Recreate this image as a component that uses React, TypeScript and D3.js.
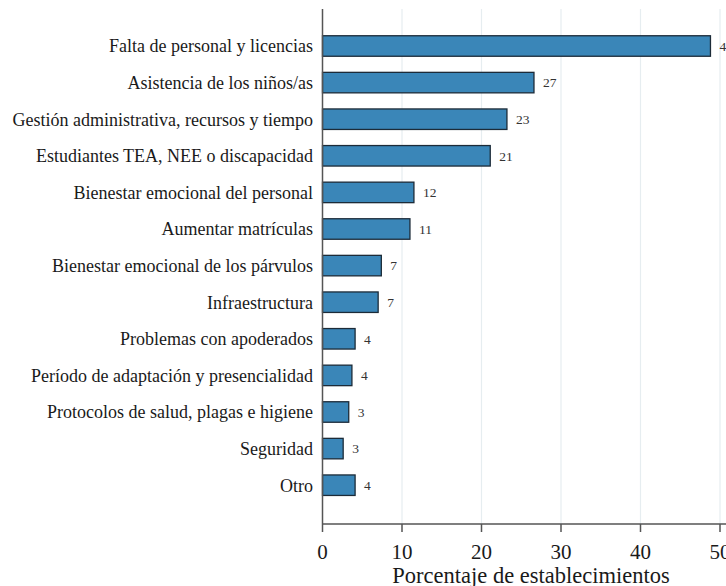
import React from "react";
import * as d3 from "d3";

const categories = [
  "Falta de personal y licencias",
  "Asistencia de los niños/as",
  "Gestión administrativa, recursos y tiempo",
  "Estudiantes TEA, NEE o discapacidad",
  "Bienestar emocional del personal",
  "Aumentar matrículas",
  "Bienestar emocional de los párvulos",
  "Infraestructura",
  "Problemas con apoderados",
  "Período de adaptación y presencialidad",
  "Protocolos de salud, plagas e higiene",
  "Seguridad",
  "Otro",
];
const values = [48.8, 26.6, 23.2, 21.1, 11.5, 11.0, 7.4, 7.0, 4.1, 3.7, 3.3, 2.6, 4.1];
const valueLabels = ["49", "27", "23", "21", "12", "11", "7", "7", "4", "4", "3", "3", "4"];
const xTicks = [0, 10, 20, 30, 40, 50];
const xTitle = "Porcentaje de establecimientos";

export default function App() {
  const W = 726, H = 586;
  const x0 = 322.5, x1 = 720;
  const yTop = 9, yAxis = 524;
  const x = d3.scaleLinear().domain([0, 50]).range([x0, x1]);
  const y = d3.scaleBand<string>().domain(categories).range([27.7, 503.5]).paddingInner(0.44).paddingOuter(0.22);
  const font = "'Liberation Serif', 'Times New Roman', serif";
  return (
    <svg width={W} height={H} style={{ position: "absolute", left: 0, top: 0, background: "#fff" }} fontFamily={font}>
      {xTicks.slice(1).map((t) => (
        <line key={"g" + t} x1={x(t)} x2={x(t)} y1={yTop} y2={yAxis} stroke="#e6edf0" strokeWidth={1.2} />
      ))}
      {categories.map((c, i) => (
        <g key={c}>
          <rect x={x(0)} y={y(c)!} width={x(values[i]) - x(0)} height={y.bandwidth()} fill="#3a86b8" stroke="#1c2b38" strokeWidth={1.3} />
          <text x={x(values[i]) + 9} y={y(c)! + y.bandwidth() / 2} dy="0.35em" fontSize={13.5} fill="#333">{valueLabels[i]}</text>
          <text x={313} y={y(c)! + y.bandwidth() / 2} dy="0.35em" textAnchor="end" fontSize={18} fill="#1a1a1a">{c}</text>
        </g>
      ))}
      <line x1={x0} x2={x0} y1={yTop} y2={yAxis} stroke="#555" strokeWidth={1.5} />
      <line x1={x0} x2={W} y1={yAxis} y2={yAxis} stroke="#555" strokeWidth={1.5} />
      {xTicks.map((t) => (
        <g key={"t" + t}>
          <line x1={x(t)} x2={x(t)} y1={yAxis} y2={yAxis + 8} stroke="#555" strokeWidth={1.5} />
          <text x={x(t)} y={559} textAnchor="middle" fontSize={21} fill="#1a1a1a">{t}</text>
        </g>
      ))}
      <text x={531} y={582.5} textAnchor="middle" fontSize={22.5} fill="#1a1a1a">{xTitle}</text>
    </svg>
  );
}
